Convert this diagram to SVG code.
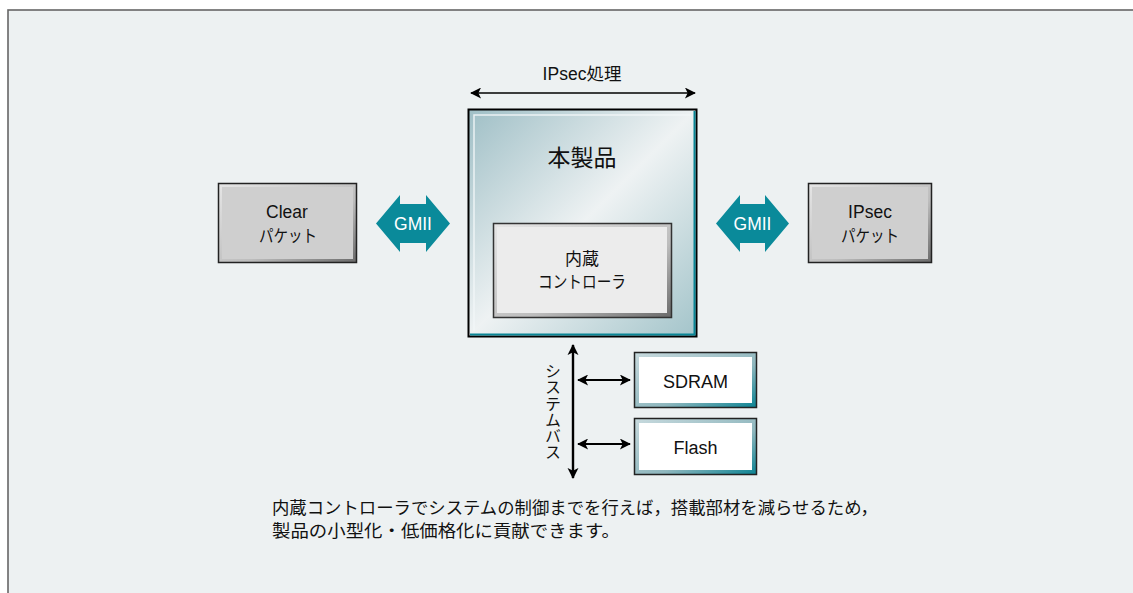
<svg xmlns="http://www.w3.org/2000/svg" width="1133" height="593" viewBox="0 0 1133 593">
  <style>
    .t { font-family: "Liberation Sans", "Noto Sans CJK JP", sans-serif; fill: #111; text-anchor: middle; }
    .jp { font-family: "Noto Sans CJK JP", "Liberation Sans", sans-serif; fill: #111; }
    .gm { font-family: "Liberation Sans", "Noto Sans CJK JP", sans-serif; fill: #fff; text-anchor: middle; font-size: 17.5px; }
    .ln { stroke: #000; fill: none; }
  </style>
  <defs>
    <linearGradient id="mainFill" x1="0" y1="0" x2="1" y2="1">
      <stop offset="0" stop-color="#9fbfc6"/>
      <stop offset="0.5" stop-color="#eef2f3"/>
      <stop offset="1" stop-color="#a3c4ca"/>
    </linearGradient>
    <linearGradient id="memBand" x1="0" y1="0" x2="1" y2="1">
      <stop offset="0" stop-color="#c8dade"/>
      <stop offset="0.6" stop-color="#8fb7be"/>
      <stop offset="1" stop-color="#0b8393"/>
    </linearGradient>
    <linearGradient id="grayBand" x1="0" y1="0" x2="1" y2="1">
      <stop offset="0" stop-color="#e6e6e6"/>
      <stop offset="0.6" stop-color="#bdbdbd"/>
      <stop offset="1" stop-color="#6a6a6a"/>
    </linearGradient>
    <marker id="ah" viewBox="0 0 12 12" refX="11" refY="6" markerWidth="13" markerHeight="11" markerUnits="userSpaceOnUse" orient="auto-start-reverse">
      <path d="M0,0 L12,6 L0,12 L3,6 z" fill="#000"/>
    </marker>
    <marker id="ahS" viewBox="0 0 12 12" refX="11" refY="6" markerWidth="11" markerHeight="13" markerUnits="userSpaceOnUse" orient="auto-start-reverse">
      <path d="M0,0 L12,6 L0,12 L3,6 z" fill="#000"/>
    </marker>
  </defs>

  <!-- page and panel -->
  <rect x="0" y="0" width="1133" height="593" fill="#ffffff"/>
  <rect x="8" y="10" width="1130" height="590" fill="#edf1f2" stroke="#666" stroke-width="1.6"/>

  <!-- main product block -->
  <g id="product">
    <text class="t" x="582" y="80" font-size="17.5">IPsec処理</text>
    <rect x="468.5" y="109.5" width="228" height="227" fill="url(#mainFill)" stroke="#000" stroke-width="2"/>
    <path d="M474,331 V115 H691" fill="none" stroke="#f2f6f7" stroke-width="1.5" opacity="0.9"/>
    <path d="M694.5,111 V334.5 H470" fill="none" stroke="#0a8696" stroke-width="2"/>
    <text class="t" x="582" y="166" font-size="23">本製品</text>
  </g>

  <g id="controller">
    <rect x="493.5" y="223.5" width="178" height="94" fill="url(#grayBand)" stroke="#333" stroke-width="1.5"/>
    <rect x="497" y="227" width="170" height="86" fill="#ececec"/>
    <text class="t" x="582" y="265" font-size="17">内蔵</text>
    <text class="t" x="582" y="288" font-size="17" textLength="88" lengthAdjust="spacingAndGlyphs">コントローラ</text>
  </g>

  <g id="clear-packet">
    <rect x="218.5" y="183.5" width="138" height="79" fill="url(#grayBand)" stroke="#222" stroke-width="1.5"/>
    <rect x="222" y="187" width="131" height="72" fill="#cfcfcf"/>
    <text class="t" x="287" y="218" font-size="17.5">Clear</text>
    <text class="t" x="288" y="242" font-size="17" textLength="58" lengthAdjust="spacingAndGlyphs">パケット</text>
  </g>

  <g id="gmii-left">
    <polygon points="376,223.5 400,195 400,204 426,204 426,195 450,223.5 426,252 426,243 400,243 400,252" fill="#0a8a9a"/>
    <text class="gm" x="413" y="230">GMII</text>
  </g>

  <g id="gmii-right">
    <polygon points="716,223.5 740,195 740,204 765,204 765,195 789,223.5 765,252 765,243 740,243 740,252" fill="#0a8a9a"/>
    <text class="gm" x="752.5" y="230">GMII</text>
  </g>

  <g id="ipsec-packet">
    <rect x="808.5" y="183.5" width="123" height="79" fill="url(#grayBand)" stroke="#222" stroke-width="1.5"/>
    <rect x="812" y="187" width="116" height="72" fill="#cfcfcf"/>
    <text class="t" x="870" y="218" font-size="17.5">IPsec</text>
    <text class="t" x="870" y="242" font-size="17" textLength="58" lengthAdjust="spacingAndGlyphs">パケット</text>
  </g>

  <g id="sdram">
    <rect x="634.5" y="352.5" width="122" height="55" fill="url(#memBand)" stroke="#222" stroke-width="1.5"/>
    <rect x="639" y="357" width="113" height="46" fill="#ffffff"/>
    <text class="t" x="695.5" y="388" font-size="18">SDRAM</text>
  </g>

  <g id="flash">
    <rect x="634.5" y="418.5" width="122" height="56" fill="url(#memBand)" stroke="#222" stroke-width="1.5"/>
    <rect x="639" y="423" width="113" height="47" fill="#ffffff"/>
    <text class="t" x="695.5" y="454" font-size="18">Flash</text>
  </g>

  <g id="system-bus-label">
    <text class="jp" x="553" y="363" font-size="16" style="writing-mode: vertical-rl; text-orientation: upright;" textLength="97" lengthAdjust="spacingAndGlyphs">システムバス</text>
  </g>

  <!-- connectors -->
  <g id="connectors">
    <line class="ln" x1="471" y1="93" x2="695" y2="93" stroke-width="1.6" marker-start="url(#ah)" marker-end="url(#ah)"/>
    <line class="ln" x1="573" y1="345" x2="573" y2="478" stroke-width="2.4" marker-start="url(#ahS)" marker-end="url(#ahS)"/>
    <line class="ln" x1="578" y1="380" x2="630" y2="380" stroke-width="2" marker-start="url(#ah)" marker-end="url(#ah)"/>
    <line class="ln" x1="578" y1="444" x2="630" y2="444" stroke-width="2" marker-start="url(#ah)" marker-end="url(#ah)"/>
  </g>

  <!-- caption -->
  <g id="caption" class="jp" font-size="17">
    <text x="272" y="514" textLength="606" lengthAdjust="spacingAndGlyphs">内蔵コントローラでシステムの制御までを行えば，搭載部材を減らせるため，</text>
    <text x="272" y="537" textLength="348" lengthAdjust="spacingAndGlyphs">製品の小型化・低価格化に貢献できます。</text>
  </g>
</svg>
